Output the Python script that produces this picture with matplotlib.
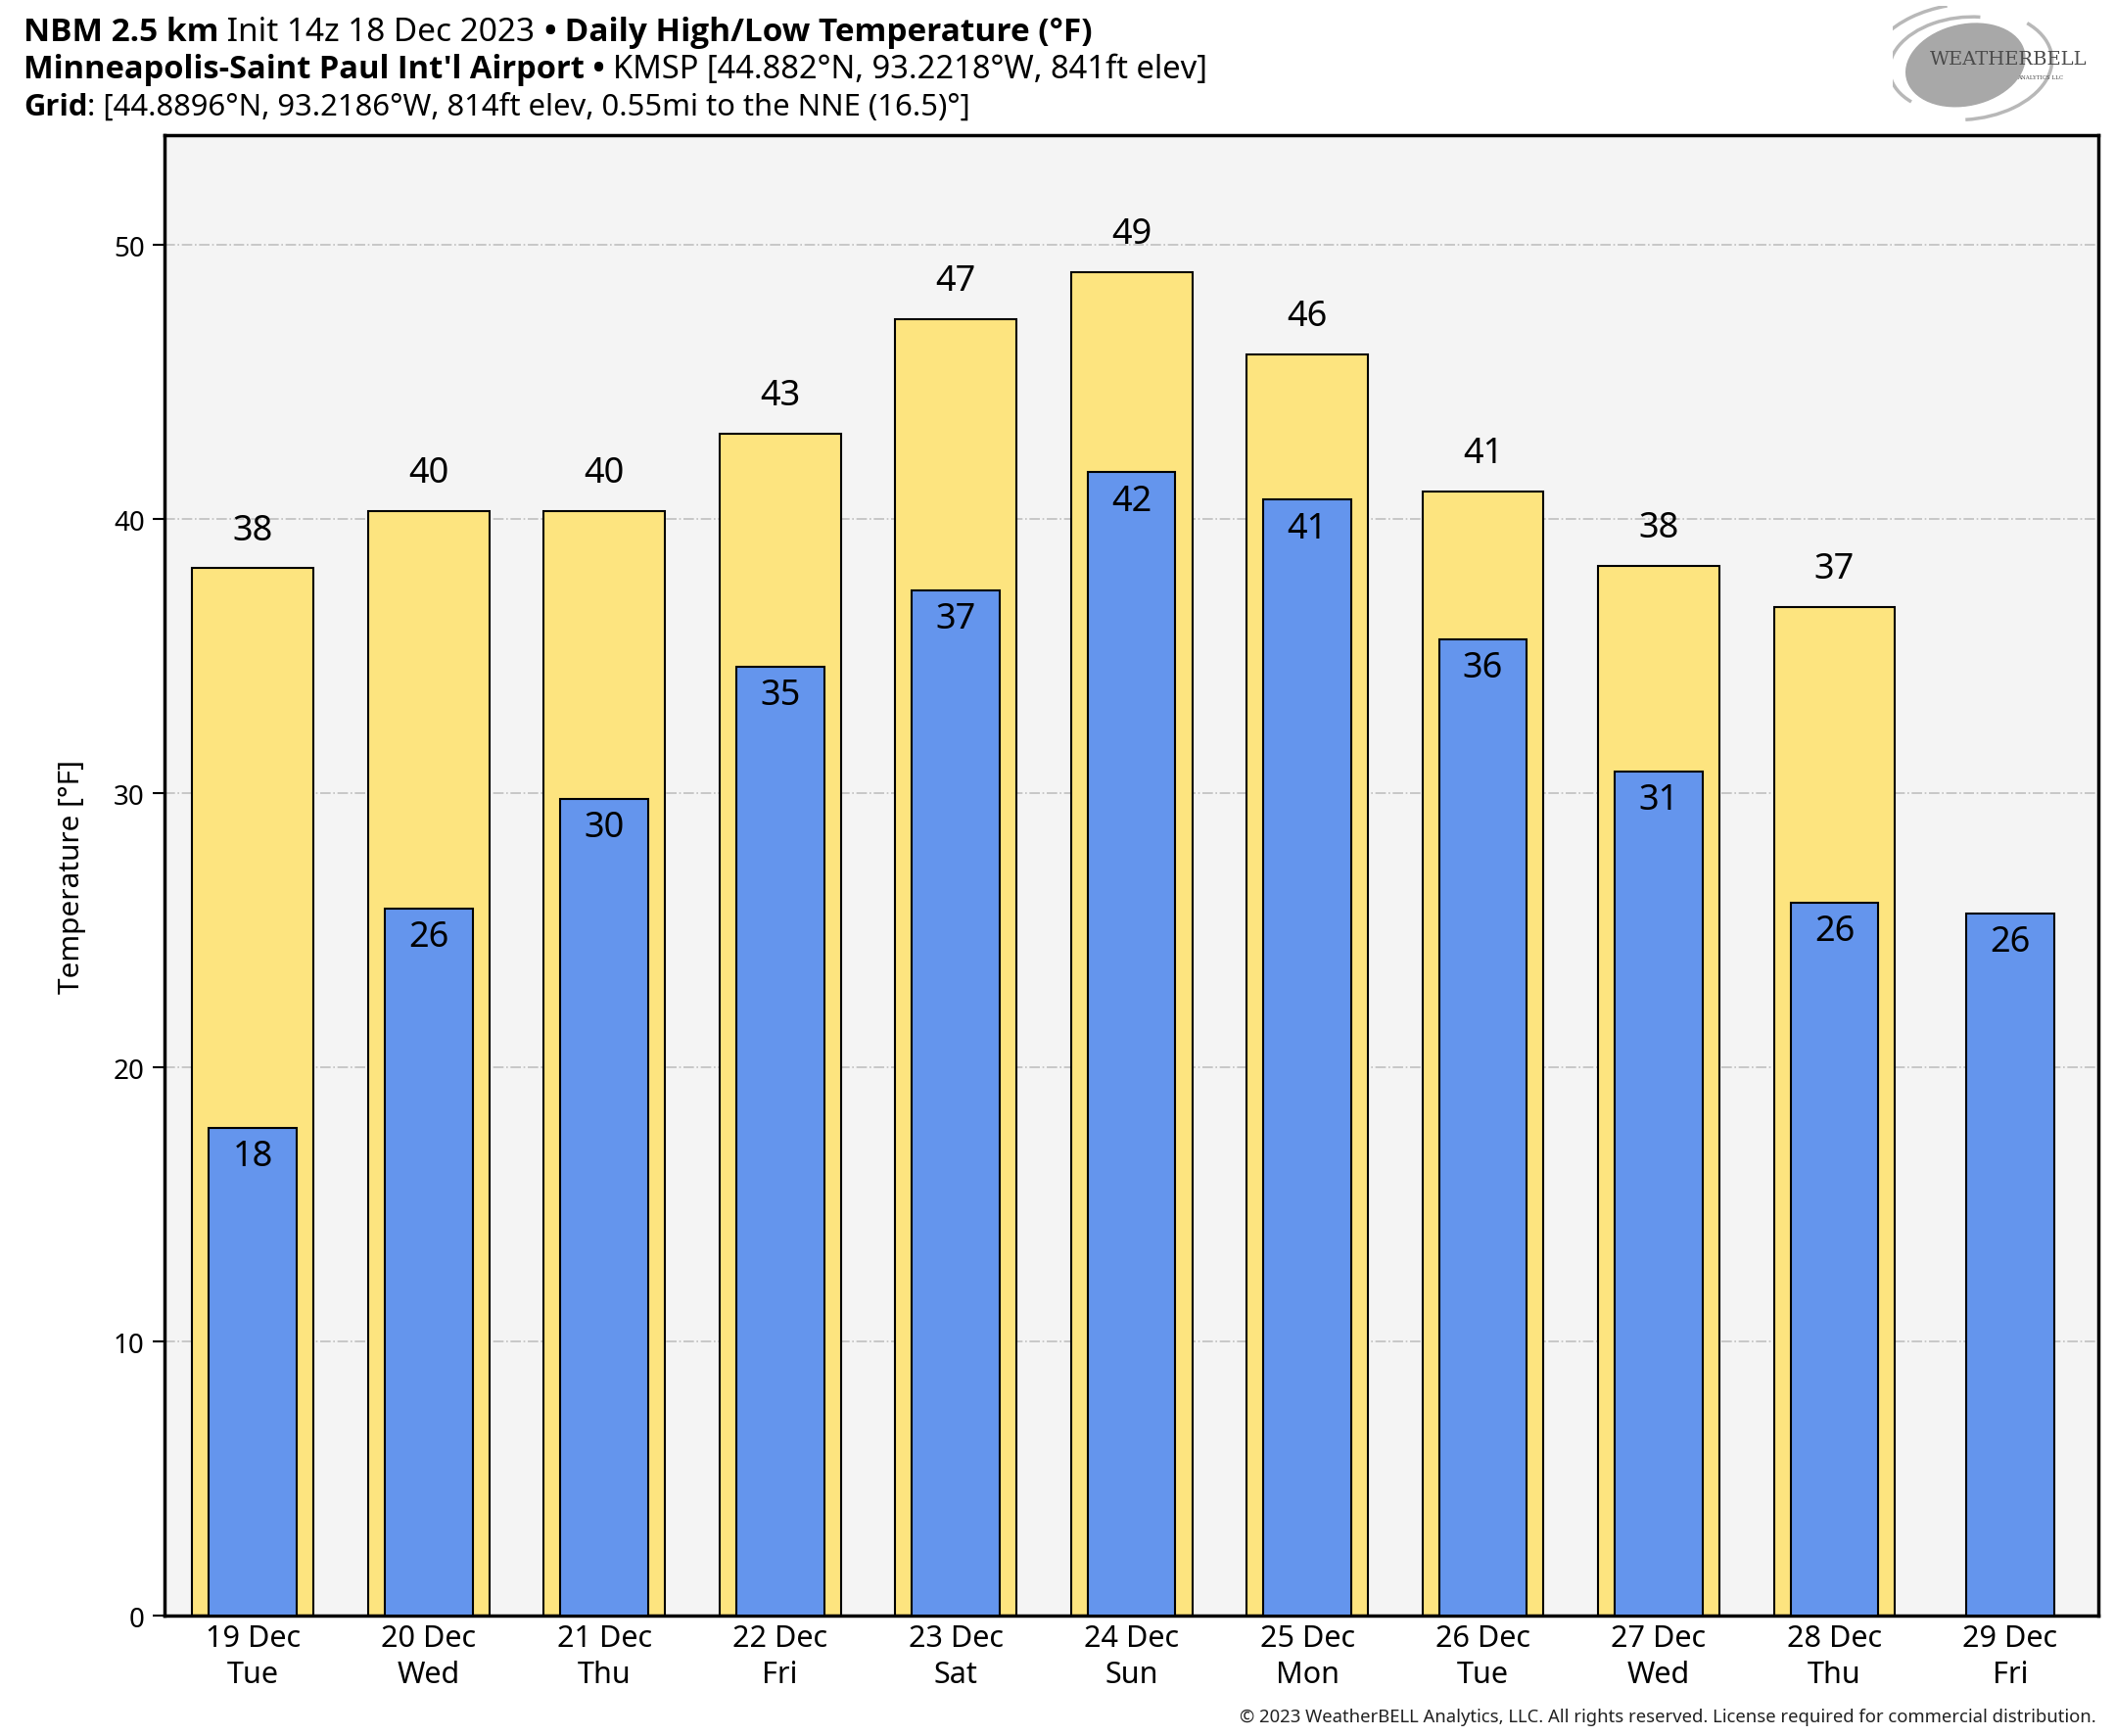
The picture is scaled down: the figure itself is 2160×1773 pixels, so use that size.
import numpy as np
import matplotlib.pyplot as plt
from matplotlib.patches import Ellipse, Arc

plt.rcParams['font.family'] = ['Noto Sans', 'DejaVu Sans']

days = ['19 Dec\nTue', '20 Dec\nWed', '21 Dec\nThu', '22 Dec\nFri', '23 Dec\nSat',
        '24 Dec\nSun', '25 Dec\nMon', '26 Dec\nTue', '27 Dec\nWed', '28 Dec\nThu',
        '29 Dec\nFri']
highs = [38.2, 40.3, 40.3, 43.1, 47.3, 49.0, 46.0, 41.0, 38.3, 36.8, np.nan]
lows = [17.8, 25.8, 29.8, 34.6, 37.4, 41.7, 40.7, 35.6, 30.8, 26.0, 25.6]
yticks = [0, 10, 20, 30, 40, 50]

fig = plt.figure(figsize=(21.6, 17.74), dpi=100)
ax = fig.add_axes([0.078, 0.0693, 0.914, 0.8523])
ax.set_facecolor('#f4f4f4')

x = np.arange(len(days))
hb = ax.bar(x, highs, width=0.69, color='#fde47f', edgecolor='black', linewidth=1.5, zorder=2)
lb = ax.bar(x, lows, width=0.5, color='#6495ed', edgecolor='black', linewidth=1.5, zorder=3)

for xi, h in zip(x, highs):
    if not np.isnan(h):
        ax.annotate(f'{h:.0f}', (xi, h), xytext=(0, 15), textcoords='offset points',
                    ha='center', va='bottom', fontsize=26, zorder=4)
for xi, l in zip(x, lows):
    ax.annotate(f'{l:.0f}', (xi, l), xytext=(0, -8), textcoords='offset points',
                ha='center', va='top', fontsize=26, zorder=4)

ax.set_xlim(-0.5, len(days) - 0.5)
ax.set_ylim(0, 54)
ax.set_yticks(yticks)
ax.set_xticks(x)
ax.set_xticklabels(days, fontsize=22, linespacing=1.3)
ax.tick_params(axis='x', length=0, pad=6)
ax.tick_params(axis='y', length=9, width=1.5, labelsize=20, pad=6)
ax.grid(axis='y', color='#c0c0c0', linestyle='-.', linewidth=1.2, zorder=1)
ax.set_axisbelow(True)
for s in ax.spines.values():
    s.set_linewidth(2.5)
ax.set_ylabel('Temperature [°F]', fontsize=21.5, labelpad=20)


def chain_text(parts, x0, y0, size=23.5):
    prev = None
    for txt, bold in parts:
        kw = dict(fontsize=size, ha='left')
        if bold:
            kw.update(family=['Open Sans', 'DejaVu Sans'], fontweight='bold')
        if prev is None:
            prev = fig.text(x0, y0, txt, va='baseline', **kw)
        else:
            prev = ax.annotate(txt, xy=(1, 0), xycoords=prev, xytext=(0, 0),
                               textcoords='offset points', va='bottom',
                               annotation_clip=False, **kw)


chain_text([('NBM 2.5 km', True), (' Init 14z 18 Dec 2023 ', False), ('•', True),
            (' Daily High/Low Temperature (°F)', True)], 0.011, 1 - 42 / 1774, size=24)
chain_text([("Minneapolis-Saint Paul Int'l Airport", True), (' • ', True),
            ('KMSP [44.882°N, 93.2218°W, 841ft elev]', False)], 0.011, 1 - 80 / 1774)
chain_text([('Grid', True), (': [44.8896°N, 93.2186°W, 814ft elev, 0.55mi to the NNE (16.5)°]', False)],
           0.011, 1 - 118 / 1774, size=22.3)

fig.text(0.991, 0.006, '© 2023 WeatherBELL Analytics, LLC. All rights reserved. '
         'License required for commercial distribution.', fontsize=13.3, ha='right', va='bottom',
         color='#222222')

# logo
logo = fig.add_axes([0.895, 0.928, 0.098, 0.068])
logo.set_xlim(0, 1)
logo.set_ylim(0, 1)
logo.axis('off')
logo.add_patch(Ellipse((0.35, 0.5), 0.55, 0.72, angle=-20, color='#a8a8a8'))
for r, a1, a2 in [(0.72, 100, 250), (0.82, 290, 70), (0.92, 120, 220)]:
    logo.add_patch(Arc((0.35, 0.5), r, r * 1.15, angle=-20, theta1=a1, theta2=a2,
                       color='#b8b8b8', lw=2.5))
logo.text(0.18, 0.55, 'WEATHERBELL', fontsize=14, family='serif', color='#4a4a4a', va='center')
logo.text(0.6, 0.4, 'ANALYTICS LLC', fontsize=4, family='serif', color='#4a4a4a', va='center')

fig.savefig('out.png', dpi=100)
